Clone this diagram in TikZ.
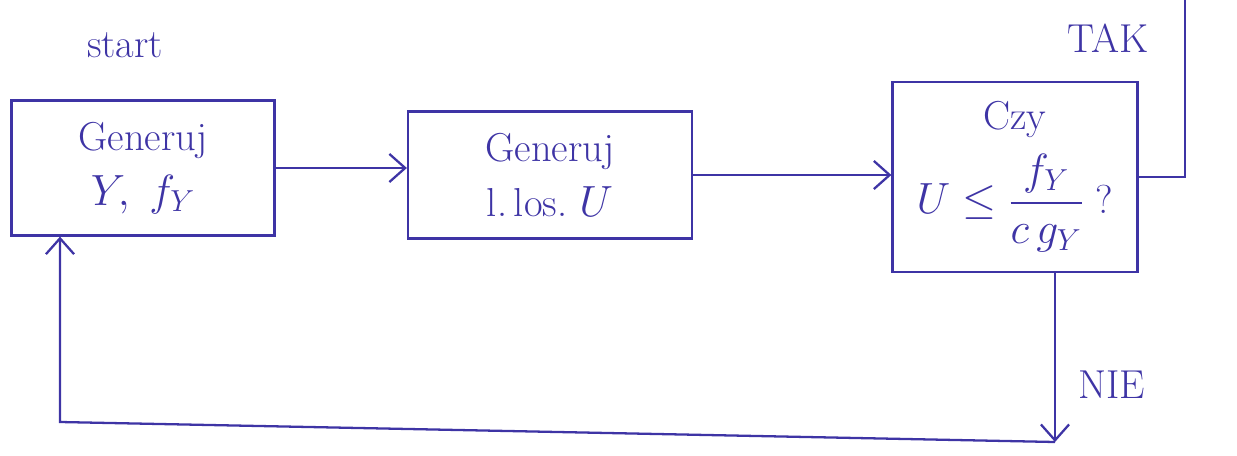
\documentclass[tikz,border=0pt]{standalone}
\usepackage{amsmath}
\usetikzlibrary{arrows.meta}
\definecolor{ink}{RGB}{62,52,165}
\begin{document}
\begin{tikzpicture}[x=0.02cm,y=-0.02cm,
  ink/.style={draw=ink,line width=1.3pt},
  box/.style={ink,text=ink,align=center,font=\fontsize{23}{31}\selectfont,inner sep=0pt},
  lbl/.style={text=ink,font=\fontsize{23}{27}\selectfont},
  conn/.style={ink,-{Straight Barb[length=9pt,width=16pt]}},
  plain/.style={ink}]
\useasboundingbox (0,0) rectangle (1237,456);
\node[lbl] (start) at (125,45) {start};
\node[box,minimum width=5.26cm,minimum height=2.7cm] (b1) at (143,168) {Generuj\\$Y,\ f_Y$};
\node[box,minimum width=5.68cm,minimum height=2.54cm] (b2) at (550,175) {Generuj\\l.\,los.\ $U$};
\node[box,minimum width=4.9cm,minimum height=3.8cm] (b3) at (1015,177) {Czy\\[8pt]$U\le\dfrac{f_Y}{c\,g_Y}$\ ?};
\node[lbl] (tak) at (1108,38) {TAK};
\node[lbl] (nie) at (1112,385) {NIE};
\coordinate (top) at (1185,0);
\coordinate (down) at (1055,442);
\coordinate (ret) at (60,422);
\draw[conn] (b1.east) -- (b1.east -| b2.west);
\draw[conn] (b2.east) -- (b2.east -| b3.west);
\draw[plain] (b3.east) -| (top);
\draw[conn] (b3.south -| down) -- (down);
\draw[conn] (down) -- (ret) -- (b1.south -| ret);
\end{tikzpicture}
\end{document}
